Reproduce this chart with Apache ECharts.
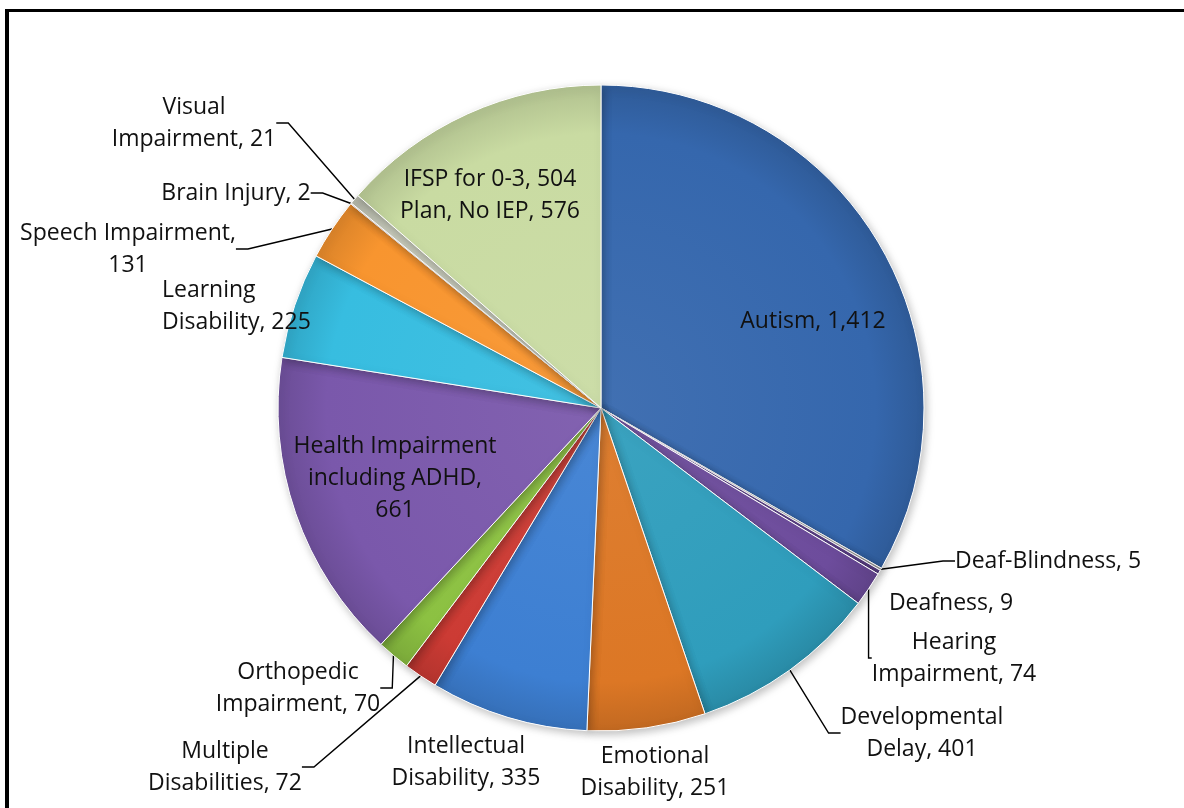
<!DOCTYPE html>
<html>
<head>
<meta charset="utf-8">
<script src="https://cdn.jsdelivr.net/npm/echarts@6/dist/echarts.min.js"></script>
<style>
  html, body { margin: 0; padding: 0; background: #fff; }
  #chart { width: 1184px; height: 808px; }
</style>
</head>
<body>
<div id="chart"></div>
<script>
// categories (\n = where the label wraps) and counts, clockwise from 12 o'clock
const categories = ['Autism', 'Deaf-Blindness', 'Deafness', 'Hearing\nImpairment', 'Developmental\nDelay',
  'Emotional\nDisability', 'Intellectual\nDisability', 'Multiple\nDisabilities', 'Orthopedic\nImpairment',
  'Health Impairment\nincluding ADHD', 'Learning\nDisability', 'Speech Impairment', 'Brain Injury',
  'Visual\nImpairment', 'IFSP for 0-3, 504\nPlan, No IEP']
const counts = [1412, 5, 9, 74, 401, 251, 335, 72, 70, 661, 225, 131, 2, 21, 576]
// value goes on its own line for these
const valueOnNewLine = [9, 11]

const colors = ['#3567ad', '#a9a9a9', '#5d4189', '#6d4c9c', '#2f9dbc', '#dc7725', '#3d7fd2', '#cc3b34',
  '#8cc142', '#7a58ab', '#37bde0', '#f8952f', '#e3a5ab', '#c9ccbd', '#c9dba2']

// label placement [x, y, align, leader line]
const labelPos = [
  [813, 321, 'center', false],
  [955, 561, 'left', true],
  [951, 603, 'center', false],
  [954, 658, 'center', true],
  [922, 733, 'center', true],
  [655, 772, 'center', false],
  [466, 762, 'center', false],
  [225, 767, 'center', true],
  [298, 688, 'center', true],
  [395, 478, 'center', false],
  [162, 306, 'left', false],
  [128, 249, 'center', true],
  [236, 193, 'center', true],
  [194, 123, 'center', true],
  [490, 195, 'center', false]
]
const inside = [0, 9, 14]

function shade(hex, amt) {
  let n = parseInt(hex.slice(1), 16)
  let r = n >> 16, g = (n >> 8) & 255, b = n & 255
  const f = c => Math.max(0, Math.min(255, Math.round(amt > 0 ? c + (255 - c) * amt : c * (1 + amt))))
  return 'rgb(' + f(r) + ',' + f(g) + ',' + f(b) + ')'
}

const cx = 601, cy = 408, R = 323

const data = counts.map((v, i) => ({
  name: categories[i],
  value: v,
  itemStyle: {
    color: {
      type: 'radial', x: cx, y: cy, r: R, global: true,
      colorStops: [
        { offset: 0, color: shade(colors[i], 0.06) },
        { offset: 0.85, color: colors[i] },
        { offset: 1, color: shade(colors[i], -0.12) }
      ]
    }
  },
  label: { position: inside.includes(i) ? 'inside' : 'outside' },
  labelLine: { show: labelPos[i][3] }
}))

const chart = echarts.init(document.getElementById('chart'))
chart.setOption({
  animation: false,
  graphic: [
    { type: 'rect', shape: { x: 5, y: 9, width: 4, height: 799 }, style: { fill: '#000' } },
    { type: 'rect', shape: { x: 5, y: 9, width: 1179, height: 3 }, style: { fill: '#000' } }
  ],
  series: [{
    type: 'pie',
    center: [cx, cy],
    radius: R,
    startAngle: 90,
    clockwise: true,
    avoidLabelOverlap: false,
    itemStyle: {
      borderColor: '#fff',
      borderWidth: 1,
      shadowBlur: 8,
      shadowColor: 'rgba(0,0,0,0.25)',
      shadowOffsetX: 2,
      shadowOffsetY: 3
    },
    label: {
      fontFamily: 'Open Sans',
      fontSize: 23,
      lineHeight: 32,
      color: '#111',
      formatter: p => p.name + (valueOnNewLine.includes(p.dataIndex) ? ',\n' : ', ') +
        p.value.toLocaleString('en-US')
    },
    labelLine: {
      length: 15,
      length2: 12,
      lineStyle: { color: '#000', width: 1.4 }
    },
    labelLayout: function (params) {
      const p = labelPos[params.dataIndex]
      return { x: p[0], y: p[1], align: p[2], verticalAlign: 'middle' }
    },
    data: data
  }]
})
</script>
</body>
</html>
